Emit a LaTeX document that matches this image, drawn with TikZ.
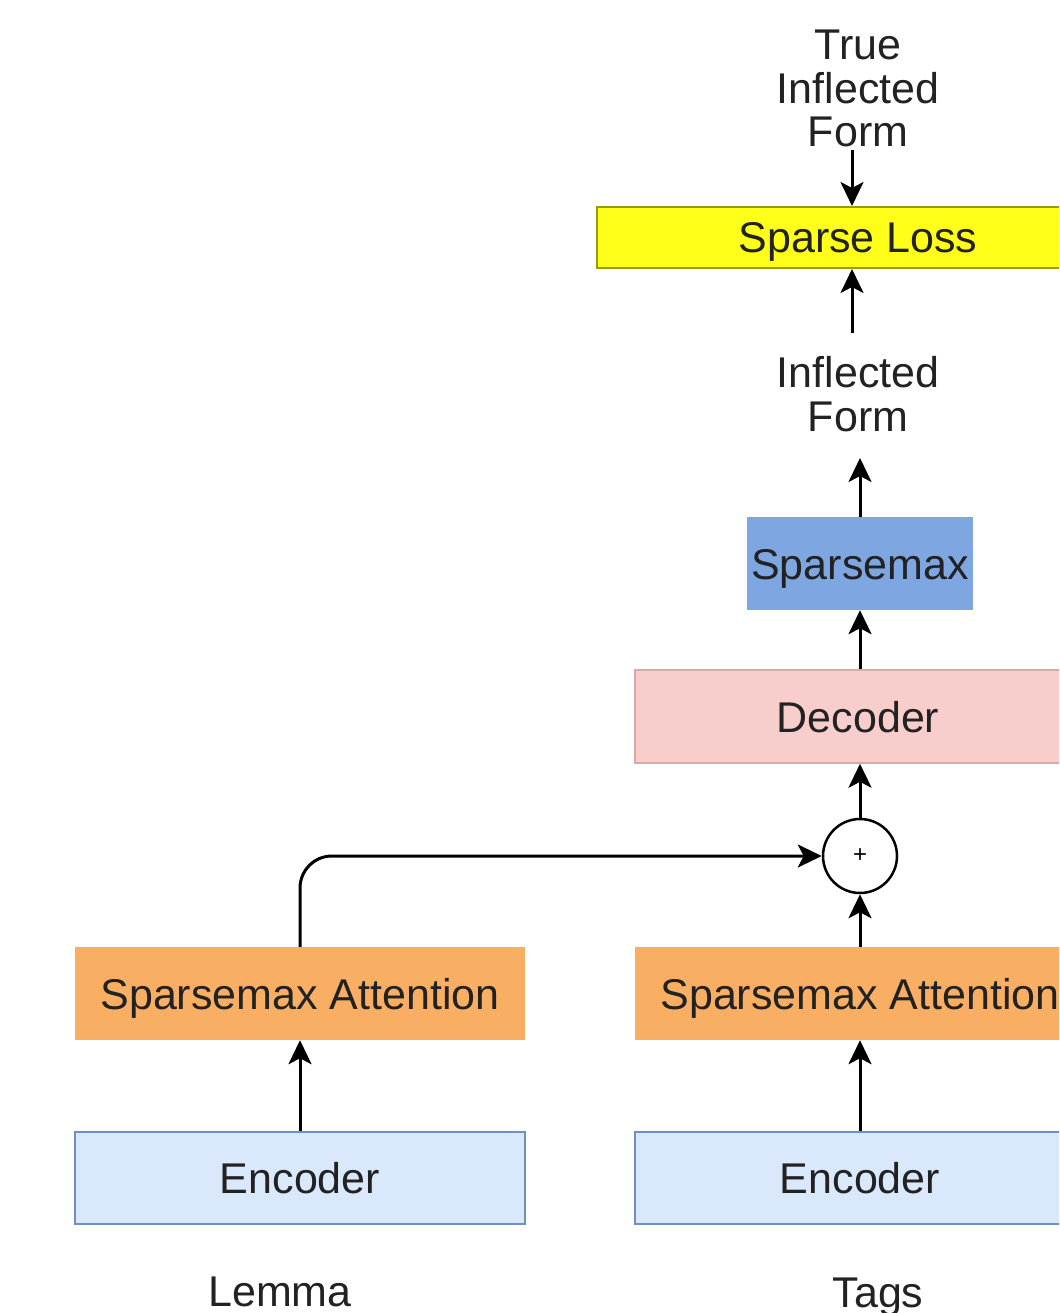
\documentclass[tikz,border=0pt]{standalone}
\usepackage{fontspec}
\setmainfont{Liberation Sans}
\usetikzlibrary{arrows.meta}
\definecolor{lossfill}{HTML}{FFFF1A}
\definecolor{lossdraw}{HTML}{9A9A10}
\definecolor{smaxfill}{HTML}{7EA6E0}
\definecolor{decfill}{HTML}{F8CECC}
\definecolor{decdraw}{HTML}{DDA8A6}
\definecolor{attfill}{HTML}{F9AF63}
\definecolor{encfill}{HTML}{DAE8FC}
\definecolor{encdraw}{HTML}{7090C0}
\definecolor{txt}{HTML}{222222}
\tikzset{
  box/.style={rectangle, inner sep=0pt, text=txt, text height=31pt, text depth=0pt, font=\fontsize{43}{43}\selectfont},
  lbl/.style={inner sep=0pt, text=txt, align=center, font=\fontsize{43}{43.5}\selectfont, anchor=base},
  arr/.style={line width=3pt, -{Stealth[length=24pt, width=23pt, inset=6pt]}},
}
\begin{document}
\begin{tikzpicture}[x=1pt, y=-1pt]
\useasboundingbox (0,0) rectangle (1059,1313);
\clip (0,0) rectangle (1059,1313);
% labels
\node[lbl] (truef) at (858,147) {True\\Inflected\\Form};
\node[lbl] (infl) at (858,431) {Inflected\\Form};
\node[lbl] (lemma) at (280,1306) {Lemma};
\node[lbl] (tags) at (878,1307) {Tags};
% boxes
\node[box, fill=lossfill, draw=lossdraw, line width=2pt, minimum width=522pt, minimum height=61pt] (loss) at (858,237.5) {Sparse Loss};
\node[box, fill=smaxfill, minimum width=226pt, minimum height=93pt] (smax) at (860,563.5) {Sparsemax};
\node[box, fill=decfill, draw=decdraw, line width=1.5pt, minimum width=446pt, minimum height=93pt] (dec) at (858,716.5) {Decoder};
\node[box, fill=attfill, minimum width=450pt, minimum height=93pt] (attL) at (300,993.5) {Sparsemax Attention};
\node[box, fill=attfill, minimum width=450pt, minimum height=93pt] (attR) at (860,993.5) {Sparsemax Attention};
\node[box, fill=encfill, draw=encdraw, line width=2pt, minimum width=450pt, minimum height=92pt] (encL) at (300,1178) {Encoder};
\node[box, fill=encfill, draw=encdraw, line width=2pt, minimum width=450pt, minimum height=92pt] (encR) at (860,1178) {Encoder};
\node[circle, draw=black, line width=2.5pt, fill=white, minimum size=74pt, inner sep=0pt, font=\fontsize{24}{24}\selectfont] (plus) at (860,856) {+};
% connectors
\coordinate (t1) at (852,150);
\draw[arr] (t1) -- (loss.north -| t1);
\coordinate (t2) at (852,333);
\draw[arr] (t2) -- (loss.south -| t2);
\coordinate (t3) at (860,458);
\draw[arr] (smax.north) -- (t3);
\draw[arr] (dec.north -| smax.south) -- (smax.south);
\draw[arr] (plus.north) -- (plus.north |- dec.south);
\draw[arr] (attR.north) -- (plus.south);
\draw[arr, rounded corners=32pt] (attL.north) |- (plus.west);
\draw[arr] (encL.north) -- (attL.south);
\draw[arr] (encR.north) -- (attR.south);
\end{tikzpicture}
\end{document}
